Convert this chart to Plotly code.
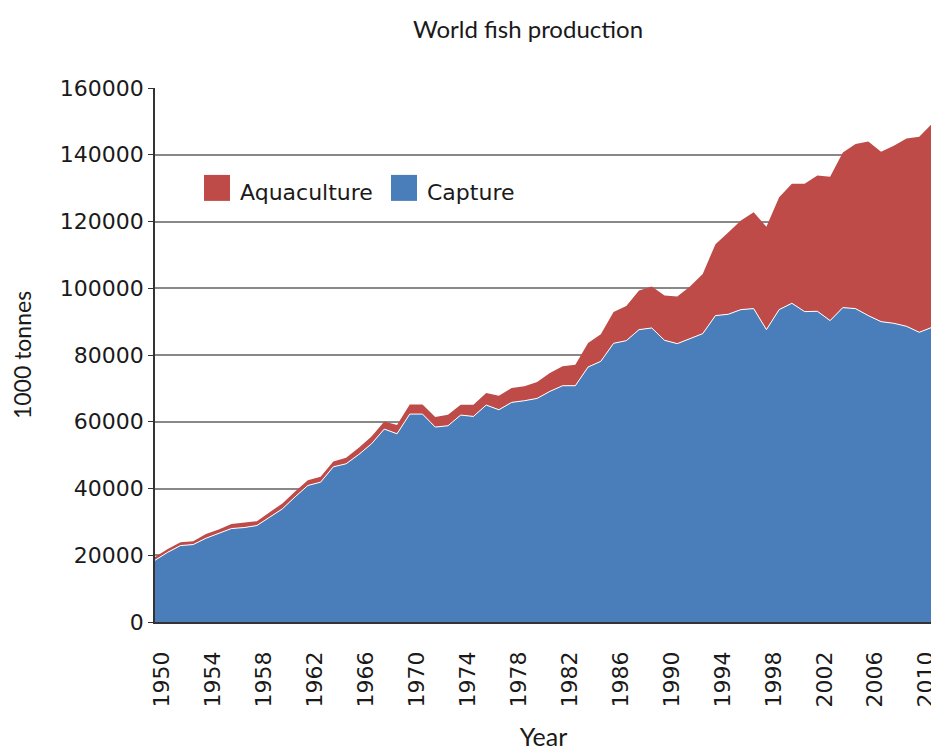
import plotly.graph_objects as go

# Years (62 annual points shown in the reference)
years = list(range(1950, 2012))

# Capture production (1000 tonnes)
capture = [18500, 20900, 22900, 23200, 25100, 26500, 28000, 28300, 28900, 31400,
           33900, 37500, 40900, 41900, 46500, 47400, 50200, 53400, 57800, 56400,
           62300, 62300, 58400, 58800, 62000, 61600, 65000, 63600, 65800, 66300,
           67000, 69100, 70800, 70800, 76400, 78100, 83500, 84300, 87600, 88100,
           84400, 83400, 85000, 86400, 91800, 92200, 93600, 93900, 87600, 93600,
           95500, 93000, 93100, 90300, 94200, 93900, 91800, 90000, 89500, 88600,
           86800, 88300]

# Aquaculture production (1000 tonnes)
aquaculture = [1000, 1000, 1000, 1000, 1300, 1200, 1400, 1400, 1300, 1500,
               1600, 1600, 1600, 1600, 1600, 1800, 2000, 2200, 2300, 2600,
               2900, 2900, 3000, 3300, 3100, 3500, 3600, 4200, 4300, 4300,
               4900, 5500, 5800, 6300, 7200, 8100, 9400, 10400, 11700, 12400,
               13400, 14100, 15500, 17900, 21400, 24500, 26700, 28900, 30800, 33700,
               35800, 38300, 40700, 43100, 46500, 49300, 52200, 50900, 53200, 56300,
               58600, 61000]

tick_years = list(range(1950, 2011, 4))
y_ticks = list(range(0, 160001, 20000))

BLUE = "#4A7EBB"
RED = "#BE4B48"
TXT = "#1a1a1a"

# The page body has an 8px margin, so the figure is drawn 8px smaller and
# all reference pixel positions are shifted by -8.
OFF = 8
W, H = 939 - OFF, 751 - OFF
PL, PR, PT, PB = 155 - OFF, 932 - OFF, 88 - OFF, 622.5 - OFF

fig = go.Figure()
fig.add_trace(go.Scatter(
    x=years, y=capture, name="Capture", stackgroup="one", mode="lines",
    line=dict(color="white", width=1), fillcolor=BLUE, showlegend=False))
fig.add_trace(go.Scatter(
    x=years, y=aquaculture, name="Aquaculture", stackgroup="one", mode="lines",
    line=dict(color=RED, width=0), fillcolor=RED, showlegend=False))

fig.update_layout(
    width=W, height=H,
    margin=dict(l=PL, r=W - PR, t=PT, b=H - PB, autoexpand=False),
    plot_bgcolor="white", paper_bgcolor="white",
    title=dict(text="World fish production", x=(528 - OFF) / W, xref="container",
               xanchor="center", y=1 - (30 - OFF) / H, yref="container", yanchor="middle",
               font=dict(family="Lato", size=24, color=TXT)),
    xaxis=dict(range=[1950, 2011], tickmode="array", tickvals=tick_years,
               ticktext=[str(v) for v in tick_years], tickangle=-90,
               tickfont=dict(family="DejaVu Sans", size=22, color=TXT),
               showgrid=False, ticks="", ticklabelstandoff=19, ticklabelshift=7,
               showline=True, linecolor="#333", linewidth=1.5,
               title=dict(text="Year", font=dict(family="Lato", size=25, color=TXT),
                          standoff=24), automargin=False),
    yaxis=dict(range=[0, 160000], tickmode="array", tickvals=y_ticks,
               ticktext=[str(v) for v in y_ticks],
               tickfont=dict(family="DejaVu Sans", size=22, color=TXT),
               showgrid=True, gridcolor="#888888", gridwidth=1.5,
               ticks="outside", ticklen=5, tickcolor="#333", tickwidth=1.2,
               showline=True, linecolor="#333", linewidth=1.5, zeroline=False,
               title=dict(text="1000 tonnes", font=dict(family="Lato", size=23, color=TXT),
                          standoff=24), automargin=False),
)

# Legend drawn as swatches + text (layout elements in paper coordinates)
def px_x(p):
    return (p - OFF - PL) / (PR - PL)

def px_y(p):
    return (PB - (p - OFF)) / (PB - PT)

legend_items = [("Aquaculture", RED, 204, 240), ("Capture", BLUE, 391, 427)]
for label, color, sx, tx in legend_items:
    fig.add_shape(type="rect", xref="paper", yref="paper",
                  x0=px_x(sx), x1=px_x(sx + 26), y0=px_y(201), y1=px_y(175),
                  fillcolor=color, line=dict(width=0))
    fig.add_annotation(text=label, xref="paper", yref="paper", x=px_x(tx - 2), y=px_y(193),
                       xanchor="left", yanchor="middle", showarrow=False,
                       font=dict(family="DejaVu Sans", size=22, color=TXT))

fig.write_html("out.html")
